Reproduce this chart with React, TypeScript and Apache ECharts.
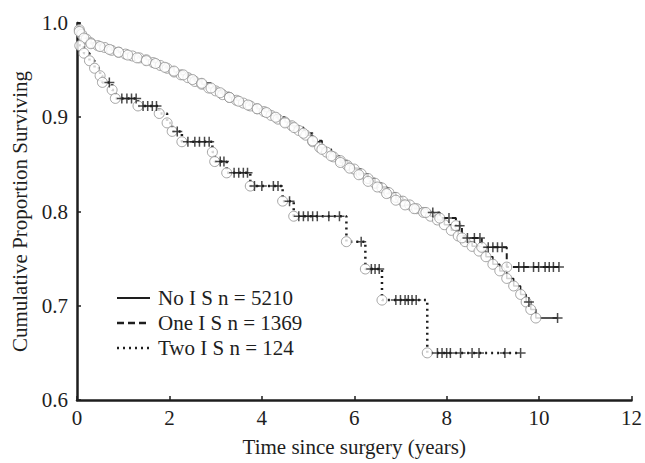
import React, { useEffect, useRef } from "react";
import * as echarts from "echarts";

// Kaplan-Meier read-offs: [time (years), cumulative proportion surviving]
const noIsEvents: [number, number][] = [
  [0.05, 0.993], [0.1, 0.988], [0.2, 0.983], [0.3, 0.979], [0.45, 0.976], [0.6, 0.974],
  [0.75, 0.971], [0.9, 0.969], [1.05, 0.967], [1.2, 0.965], [1.35, 0.963], [1.5, 0.961],
  [1.65, 0.958], [1.8, 0.955], [1.95, 0.952], [2.1, 0.948], [2.25, 0.945], [2.4, 0.942],
  [2.55, 0.938], [2.7, 0.935], [2.85, 0.931], [3.0, 0.928], [3.15, 0.924], [3.3, 0.921],
  [3.45, 0.918], [3.6, 0.915], [3.75, 0.912], [3.9, 0.909], [4.05, 0.906], [4.2, 0.902],
  [4.35, 0.898], [4.5, 0.895], [4.65, 0.891], [4.8, 0.886], [4.95, 0.881], [5.1, 0.874],
  [5.25, 0.868], [5.4, 0.863], [5.55, 0.858], [5.7, 0.854], [5.85, 0.849], [6.0, 0.845],
  [6.15, 0.84], [6.3, 0.835], [6.45, 0.83], [6.6, 0.825], [6.75, 0.82], [6.9, 0.815],
  [7.05, 0.811], [7.2, 0.807], [7.35, 0.803], [7.5, 0.799], [7.65, 0.795], [7.8, 0.791],
  [7.95, 0.786], [8.1, 0.78], [8.25, 0.774], [8.4, 0.768], [8.55, 0.763], [8.7, 0.758],
  [8.85, 0.752], [9.0, 0.744], [9.15, 0.737], [9.3, 0.729], [9.45, 0.721], [9.6, 0.712],
  [9.72, 0.704], [9.82, 0.696], [9.93, 0.687],
];
const noIsCensored: [number, number][] = [[9.78, 0.704], [10.4, 0.687]];
const noIsEnd = 10.4;

const oneIsEvents: [number, number][] = [
  [0.05, 0.991], [0.15, 0.984], [0.3, 0.978], [0.5, 0.975], [0.7, 0.972], [0.9, 0.969],
  [1.1, 0.966], [1.3, 0.963], [1.5, 0.96], [1.7, 0.957], [1.9, 0.953], [2.1, 0.949],
  [2.3, 0.945], [2.5, 0.94], [2.7, 0.936], [2.9, 0.931], [3.1, 0.926], [3.3, 0.921],
  [3.5, 0.917], [3.7, 0.913], [3.9, 0.909], [4.1, 0.905], [4.3, 0.9], [4.5, 0.894],
  [4.7, 0.889], [4.9, 0.883], [5.1, 0.875], [5.3, 0.866], [5.5, 0.859], [5.7, 0.852],
  [5.9, 0.846], [6.1, 0.839], [6.3, 0.832], [6.5, 0.826], [6.7, 0.819], [6.9, 0.812],
  [7.1, 0.807], [7.3, 0.803], [7.55, 0.799], [7.85, 0.793], [8.2, 0.785], [8.33, 0.772],
  [8.76, 0.762], [9.3, 0.741],
];
const oneIsCensored: [number, number][] = [
  [7.7, 0.799], [8.05, 0.793], [8.28, 0.785], [8.45, 0.772], [8.6, 0.772], [8.72, 0.772],
  [8.9, 0.762], [9.0, 0.762], [9.1, 0.762], [9.2, 0.762], [9.56, 0.741], [9.67, 0.741],
  [9.88, 0.741], [9.99, 0.741], [10.13, 0.741], [10.22, 0.741], [10.31, 0.741], [10.43, 0.741],
];
const oneIsEnd = 10.43;

const twoIsEvents: [number, number][] = [
  [0.06, 0.976], [0.15, 0.968], [0.27, 0.96], [0.38, 0.952], [0.5, 0.944], [0.55, 0.937],
  [0.76, 0.929], [0.83, 0.92], [1.32, 0.912], [1.78, 0.904], [1.95, 0.894], [2.06, 0.885],
  [2.27, 0.874], [2.93, 0.863], [2.98, 0.853], [3.24, 0.841], [3.75, 0.827], [4.45, 0.811],
  [4.69, 0.795], [5.83, 0.768], [6.24, 0.739], [6.6, 0.706], [7.58, 0.65],
];
const twoIsCensored: [number, number][] = [
  [0.7, 0.937], [0.97, 0.92], [1.08, 0.92], [1.18, 0.92], [1.28, 0.92],
  [1.43, 0.912], [1.53, 0.912], [1.63, 0.912], [1.72, 0.912], [2.17, 0.885],
  [2.4, 0.874], [2.55, 0.874], [2.65, 0.874], [2.76, 0.874], [2.86, 0.874],
  [3.1, 0.853], [3.18, 0.853], [3.4, 0.841], [3.5, 0.841], [3.6, 0.841], [3.69, 0.841],
  [3.84, 0.827], [4.0, 0.827], [4.25, 0.827], [4.35, 0.827], [4.6, 0.811],
  [4.8, 0.795], [4.9, 0.795], [5.0, 0.795], [5.1, 0.795], [5.2, 0.795], [5.45, 0.795], [5.68, 0.795],
  [6.15, 0.768], [6.37, 0.739], [6.45, 0.739], [6.54, 0.739],
  [6.9, 0.706], [7.0, 0.706], [7.1, 0.706], [7.17, 0.706], [7.25, 0.706], [7.34, 0.706],
  [7.8, 0.65], [7.9, 0.65], [8.0, 0.65], [8.08, 0.65], [8.3, 0.65], [8.55, 0.65], [8.7, 0.65],
  [9.26, 0.65], [9.6, 0.65],
];
const twoIsEnd = 9.6;

const legendLabels = ["No I S n = 5210", "One I S n = 1369", "Two I S n = 124"];
const xTickValues = [0, 2, 4, 6, 8, 10, 12];
const yTickValues = [0.6, 0.7, 0.8, 0.9, 1.0];

const FONT = "'Liberation Serif', 'Times New Roman', serif";
const INK = "#1e1e1e";
const CROSS = "path://M4.25,0H5.75V10H4.25Z M0,4.25H10V5.75H0Z";

function stepData(events: [number, number][], end: number): [number, number][] {
  const last = events[events.length - 1][1];
  return [[0, 1.0], ...events, [end, last]];
}

export default function App() {
  const ref = useRef<HTMLDivElement>(null);
  useEffect(() => {
    if (!ref.current) return;
    const chart = echarts.init(ref.current, undefined, { renderer: "svg" });
    const lineSeries = (data: [number, number][], type: any, width: number) => ({
      type: "line",
      data,
      step: "end",
      showSymbol: false,
      symbol: "none",
      z: 2,
      lineStyle: { color: INK, width, type },
    });
    const circles = (data: [number, number][]) => ({
      type: "scatter",
      data,
      symbol: "circle",
      symbolSize: 10,
      z: 3,
      itemStyle: { color: "#ffffff", borderColor: "#8e8e8e", borderWidth: 1 },
    });
    const crosses = (data: [number, number][]) => ({
      type: "scatter",
      data,
      symbol: CROSS,
      symbolSize: 10,
      z: 4,
      itemStyle: { color: INK },
    });
    const legendY = [298, 323, 348];
    const legendDash: any[] = [null, [7, 4], [2, 4]];
    const legendWidths = [2, 2.5, 2.5];
    const graphic: any[] = [];
    legendLabels.forEach((label, i) => {
      graphic.push({
        type: "line",
        shape: { x1: 117, y1: legendY[i], x2: 150, y2: legendY[i] },
        style: { stroke: INK, lineWidth: legendWidths[i], lineDash: legendDash[i] },
      });
      graphic.push({
        type: "text",
        x: 158,
        y: legendY[i],
        style: {
          text: label,
          fontFamily: FONT,
          fontSize: 21,
          fill: INK,
          verticalAlign: "middle",
          align: "left",
        },
      });
    });
    chart.setOption({
      animation: false,
      backgroundColor: "#ffffff",
      textStyle: { fontFamily: FONT },
      grid: { left: 77, right: 12, top: 23, bottom: 63, containLabel: false },
      xAxis: {
        type: "value",
        min: 0,
        max: 12,
        interval: 2,
        name: "Time since surgery (years)",
        nameLocation: "middle",
        nameGap: 36,
        nameTextStyle: { fontFamily: FONT, fontSize: 21, color: INK },
        axisLine: { lineStyle: { color: INK, width: 2.5 } },
        axisTick: { inside: true, length: 4, lineStyle: { color: INK, width: 1.5 } },
        axisLabel: {
          fontFamily: FONT, fontSize: 21, color: INK, margin: 7,
          formatter: (v: number) => (xTickValues.includes(v) ? String(v) : ""),
        },
        splitLine: { show: false },
      },
      yAxis: {
        type: "value",
        min: 0.6,
        max: 1.0,
        interval: 0.1,
        name: "Cumulative Proportion Surviving",
        nameLocation: "middle",
        nameGap: 45,
        nameTextStyle: { fontFamily: FONT, fontSize: 21, color: INK },
        axisLine: { lineStyle: { color: INK, width: 2.5 } },
        axisTick: { inside: true, length: 4, lineStyle: { color: INK, width: 1.5 } },
        axisLabel: {
          fontFamily: FONT, fontSize: 21, color: INK, margin: 9,
          formatter: (v: number) => {
            const hit = yTickValues.find((t) => Math.abs(t - v) < 1e-6);
            return hit !== undefined ? hit.toFixed(1) : "";
          },
        },
        splitLine: { show: false },
      },
      graphic,
      series: [
        lineSeries(stepData(noIsEvents, noIsEnd), "solid", 1.5),
        lineSeries(stepData(oneIsEvents, oneIsEnd), [6, 4], 2),
        lineSeries(stepData(twoIsEvents, twoIsEnd), [2, 4], 2.5),
        circles(noIsEvents),
        circles(oneIsEvents),
        circles(twoIsEvents),
        crosses(noIsCensored),
        crosses(oneIsCensored),
        crosses(twoIsCensored),
      ],
    });
    return () => chart.dispose();
  }, []);
  return (
    <div
      ref={ref}
      style={{ position: "fixed", left: 0, top: 0, width: 645, height: 463, background: "#fff" }}
    />
  );
}
